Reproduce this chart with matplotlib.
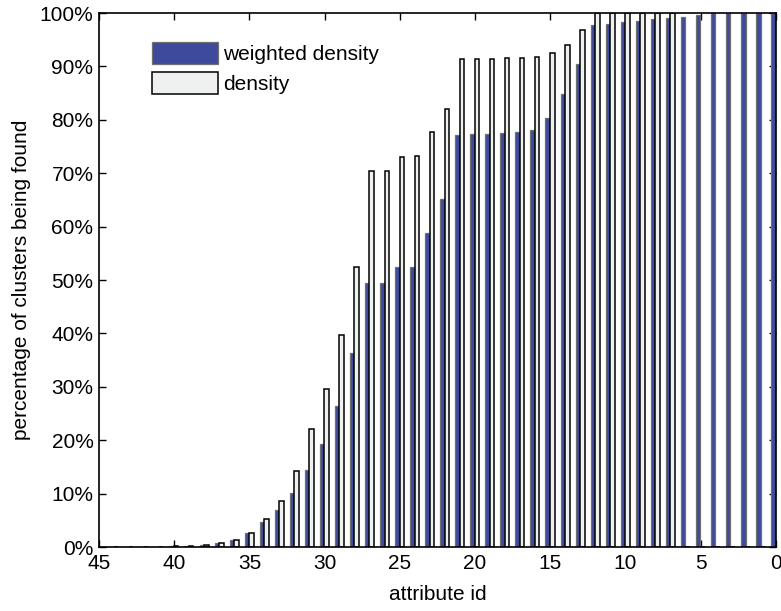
import numpy as np
import matplotlib
matplotlib.use("Agg")
import matplotlib.pyplot as plt
from matplotlib.ticker import FuncFormatter

plt.rcParams['font.family'] = ['Liberation Sans', 'DejaVu Sans']

# attribute ids 0..44
attr_id = np.arange(0, 45)

# percentage of clusters found
weighted = [100, 100, 100, 100, 100, 99.6, 99.3, 99.1, 98.8, 98.5,
            98.3, 97.9, 97.8, 90.4, 84.8, 80.4, 78.1, 77.7, 77.6, 77.3,
            77.3, 77.2, 65.1, 58.8, 52.5, 52.4, 49.5, 49.5, 36.3, 26.5,
            19.2, 14.5, 10.2, 6.9, 4.6, 2.6, 1.4, 0.7, 0.4, 0.2,
            0.1, 0.05, 0.05, 0, 0]
density = [0, 0, 0, 0, 0, 0, 0, 100, 100, 100,
           100, 100, 100, 96.9, 94.1, 92.6, 91.8, 91.6, 91.5, 91.4,
           91.3, 91.3, 82.1, 77.8, 73.2, 73.1, 70.4, 70.4, 52.4, 39.7,
           29.5, 22.1, 14.2, 8.6, 5.2, 2.6, 1.4, 0.7, 0.4, 0.2,
           0.1, 0.05, 0.05, 0, 0]

weighted = np.array(weighted) / 100.0
density = np.array(density) / 100.0

fig = plt.figure(figsize=(7.81, 6.11), dpi=100)
ax = fig.add_axes([0.1268, 0.1047, 0.8667, 0.874])

w = 0.3
ax.bar(attr_id + 0.17, weighted, width=w, color='#3e4a9c', edgecolor='#707070',
       linewidth=0.9, label='weighted density', zorder=2)
ax.bar(attr_id - 0.13, density, width=w, color='#eff1f1', edgecolor='black',
       linewidth=1.1, label='density', zorder=2)

ax.set_xlim(45, 0)
ax.set_ylim(0, 1)
ax.set_xticks(np.arange(45, -1, -5))
ax.set_yticks(np.arange(0, 1.01, 0.1))
ax.yaxis.set_major_formatter(FuncFormatter(lambda v, p: '%d%%' % round(v * 100)))
ax.tick_params(direction='in', top=True, right=True, length=5, width=1,
               labelsize=15)
ax.tick_params(axis='x', pad=5)
ax.tick_params(axis='y', pad=4)
for s in ax.spines.values():
    s.set_linewidth(1.2)

ax.set_xlabel('attribute id', fontsize=15, labelpad=9)
ax.set_ylabel('percentage of clusters being found', fontsize=15, labelpad=6)

leg = ax.legend(loc='upper left', bbox_to_anchor=(0.05, 0.98), frameon=False,
                fontsize=15, handlelength=3.2, handleheight=1.25,
                handletextpad=0.25, labelspacing=0.35)

fig.savefig('out.png', dpi=100)
